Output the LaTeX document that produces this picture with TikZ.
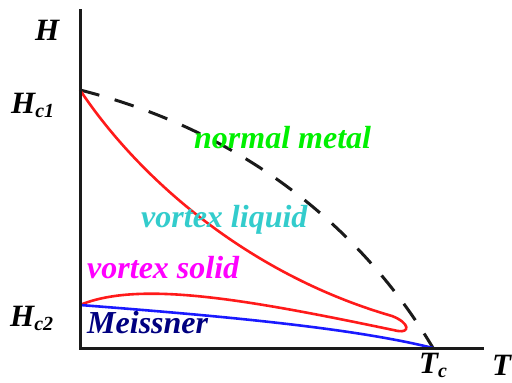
\documentclass[tikz,border=0pt]{standalone}
\usepackage{fontspec}
\setmainfont{Liberation Serif}
\usetikzlibrary{positioning,calc}
\definecolor{Axis}{HTML}{1A1A1A}
\definecolor{Normal}{HTML}{00F000}
\definecolor{Liquid}{HTML}{33CCCC}
\definecolor{Solid}{HTML}{FF00FF}
\definecolor{Meiss}{HTML}{000080}
\definecolor{Line}{HTML}{FF1A1A}
\definecolor{Low}{HTML}{1A1AFF}
\newcommand{\lowsub}[1]{\raisebox{-0.35ex}{\fontsize{20}{20}\selectfont #1}}
\tikzset{axis/.style={line width=3pt,draw=Axis},
  crit/.style={line width=3pt,draw=Axis,dash pattern=on 20pt off 16pt},
  redline/.style={line width=2.6pt,draw=Line,line join=round},
  blueline/.style={line width=2.6pt,draw=Low},
  phase/.style={anchor=base west,inner sep=0pt,font=\fontsize{32}{34}\selectfont\bfseries\itshape},
  axlabel/.style={anchor=base west,inner sep=0pt,font=\fontsize{31}{32}\selectfont\bfseries\itshape}}
\begin{document}
\begin{tikzpicture}[x=1pt,y=-1pt]
  \useasboundingbox (0,0) rectangle (512,383);
  \coordinate (top) at (80,9);
  \coordinate (O) at (80,348);
  \coordinate (right) at (484,348);
  \coordinate (hc1) at (80,90);
  \coordinate (hc2) at (80,305);
  \coordinate (tc) at (433,348);
  \coordinate (up) at (392,316);
  \coordinate (down) at (398,331);
  % phase boundaries
  \draw[crit] (hc1) .. controls (270,138) and (378,255) .. (tc);
  \draw[redline] (hc1) .. controls (140,180) and (250,275) .. (up)
      .. controls (410,323) and (410,333) .. (down)
      .. controls (250,300) and (140,280) .. (hc2);
  \draw[blueline] (hc2) .. controls (250,318) and (360,330) .. (tc);
  \draw[axis] (top) -- (O) -- (right);
  % labels
  \node[axlabel] (H) at (35,40) {H};
  \node[axlabel] (Hc1) at (11,113) {H\lowsub{c1}};
  \node[axlabel] (Hc2) at (10,326) {H\lowsub{c2}};
  \node[axlabel] (Tc) at (419,373) {T\lowsub{c}};
  \node[axlabel] (T) at (492,375) {T};
  \node[phase,text=Normal] (normal) at (194,148) {normal metal};
  \node[phase,text=Liquid] (liquid) at (141,227) {vortex liquid};
  \node[phase,text=Solid] (solid) at (87,278) {vortex solid};
  \node[phase,text=Meiss] (meiss) at (87,333) {Meissner};
\end{tikzpicture}
\end{document}
